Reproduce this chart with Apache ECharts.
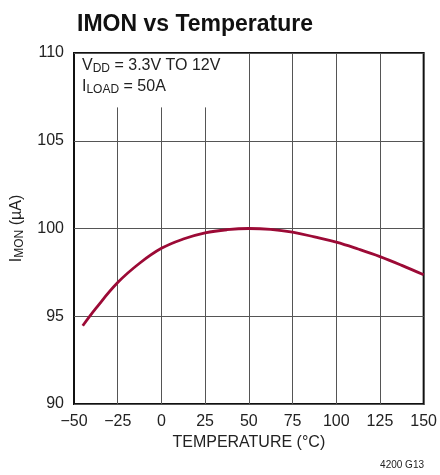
<!DOCTYPE html>
<html>
<head>
<meta charset="utf-8">
<script src="https://cdn.jsdelivr.net/npm/echarts@6/dist/echarts.min.js"></script>
<style>
  html, body { margin: 0; padding: 0; background: #fff; }
  #chart { width: 440px; height: 475px; }
</style>
</head>
<body>
<div id="chart"></div>
<script>
// temperature (°C) and IMON (µA)
const temps = [-45, -37.5, -25, -12.5, 0, 12.5, 25, 37.5, 50, 62.5, 75, 87.5, 100, 112.5, 125, 137.5, 150];
const imon = [94.46, 95.45, 96.92, 98.02, 98.87, 99.4, 99.75, 99.93, 100.0, 99.95, 99.79, 99.52, 99.22, 98.83, 98.4, 97.9, 97.36];

// vertical grid positions; the left ones stop short under the note text
const xGrid = [-25, 0, 25, 50, 75, 100, 125];
const xGridTop = [106.9, 106.9, 106.9, 110, 110, 110, 110];

const curveColor = "#9c0a36";
const gridColor = "#555";
const font = "Liberation Sans, sans-serif";

const chart = echarts.init(document.getElementById("chart"), null, { renderer: "canvas" });

chart.setOption({
  animation: false,
  backgroundColor: "#fff",
  title: {
    text: "IMON vs Temperature",
    left: 72,
    top: 8,
    textStyle: {
      fontFamily: font,
      fontWeight: "bold",
      fontSize: 23,
      color: "#111"
    }
  },
  grid: {
    left: 74,
    right: 14,
    top: 53,
    bottom: 71,
    show: true,
    borderColor: "#111",
    borderWidth: 2,
    backgroundColor: "transparent"
  },
  xAxis: {
    type: "value",
    min: -50,
    max: 150,
    interval: 25,
    name: "TEMPERATURE (°C)",
    nameLocation: "middle",
    nameGap: 28,
    nameTextStyle: { fontFamily: font, fontSize: 16, color: "#222" },
    axisLine: { show: false },
    axisTick: { show: false },
    splitLine: { show: false },
    axisLabel: {
      margin: 10,
      fontFamily: font,
      fontSize: 16,
      color: "#222",
      formatter: v => String(v).replace("-", "\u2212")
    }
  },
  yAxis: {
    type: "value",
    min: 90,
    max: 110,
    interval: 5,
    name: "{i|I}{s|MON}{i| (µA)}",
    nameLocation: "middle",
    nameGap: 48,
    nameTextStyle: {
      rich: {
        i: { fontFamily: font, fontSize: 16, color: "#222" },
        s: { fontFamily: font, fontSize: 12, color: "#222", padding: [6, 0, 0, 0] }
      }
    },
    axisLine: { show: false },
    axisTick: { show: false },
    splitLine: { show: true, lineStyle: { color: gridColor, width: 1 } },
    axisLabel: {
      margin: 10,
      fontFamily: font,
      fontSize: 16,
      color: "#222"
    }
  },
  series: [
    {
      type: "line",
      data: [],
      silent: true,
      markLine: {
        silent: true,
        symbol: "none",
        label: { show: false },
        lineStyle: { color: gridColor, width: 1, type: "solid" },
        data: xGrid.map((x, i) => [{ coord: [x, 90] }, { coord: [x, xGridTop[i]] }])
      }
    },
    {
      type: "line",
      data: temps.map((t, i) => [t, imon[i]]),
      smooth: 0.4,
      symbol: "none",
      z: 5,
      lineStyle: { color: curveColor, width: 2.8 }
    }
  ],
  graphic: [
    {
      type: "text",
      left: 82,
      top: 58,
      style: {
        text: "{a|V}{b|DD}{a| = 3.3V TO 12V}",
        rich: {
          a: { fontFamily: font, fontSize: 16, fill: "#222" },
          b: { fontFamily: font, fontSize: 12, fill: "#222", padding: [6, 0, 0, 0] }
        }
      }
    },
    {
      type: "text",
      left: 82,
      top: 79,
      style: {
        text: "{a|I}{b|LOAD}{a| = 50A}",
        rich: {
          a: { fontFamily: font, fontSize: 16, fill: "#222" },
          b: { fontFamily: font, fontSize: 12, fill: "#222", padding: [6, 0, 0, 0] }
        }
      }
    },
    {
      type: "text",
      right: 16,
      top: 460,
      style: {
        text: "4200 G13",
        fontFamily: font,
        fontSize: 10,
        fill: "#222"
      }
    }
  ]
});
</script>
</body>
</html>
